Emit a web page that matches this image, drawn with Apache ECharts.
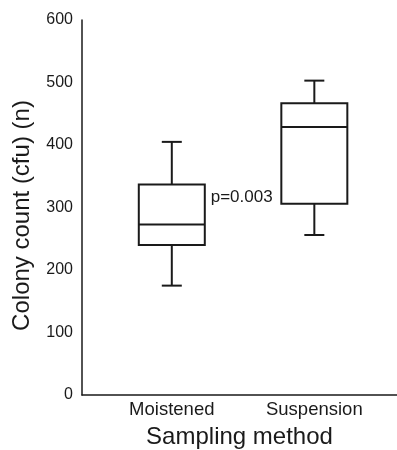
<!DOCTYPE html>
<html>
<head>
<meta charset="utf-8">
<script src="https://cdn.jsdelivr.net/npm/echarts@6/dist/echarts.min.js"></script>
<style>
  html, body { margin: 0; padding: 0; background: #fff; }
  #chart { width: 397px; height: 450px; }
</style>
</head>
<body>
<div id="chart"></div>
<script>
const categories = ['Moistened', 'Suspension'];
const catPos = [1, 2];
const whiskerLow = [175, 256];
const q1 = [240, 306];
const median = [273, 429];
const q3 = [337, 467];
const whiskerHigh = [405, 503];
const yTicks = [0, 100, 200, 300, 400, 500, 600];
const pText = 'p=0.003';
const pAt = [1.49, 317];

const font = '"Liberation Sans", Arial, sans-serif';
const ink = '#1a1a1a';

const boxData = catPos.map((x, i) => [x, whiskerLow[i], q1[i], median[i], q3[i], whiskerHigh[i]]);

const chart = echarts.init(document.getElementById('chart'));

function renderBox(params, api) {
    const x = api.value(0);
    const lo = api.coord([x, api.value(1)]);
    const b1 = api.coord([x, api.value(2)]);
    const md = api.coord([x, api.value(3)]);
    const b3 = api.coord([x, api.value(4)]);
    const hi = api.coord([x, api.value(5)]);
    const cx = lo[0];
    const hw = 33, cw = 10;
    const st = { stroke: ink, lineWidth: 2, fill: null };
    return {
        type: 'group',
        children: [
            { type: 'rect', shape: { x: cx - hw, y: b3[1], width: hw * 2, height: b1[1] - b3[1] }, style: { stroke: ink, lineWidth: 2, fill: '#fff' } },
            { type: 'line', shape: { x1: cx - hw, y1: md[1], x2: cx + hw, y2: md[1] }, style: st },
            { type: 'line', shape: { x1: cx, y1: b3[1], x2: cx, y2: hi[1] }, style: st },
            { type: 'line', shape: { x1: cx, y1: b1[1], x2: cx, y2: lo[1] }, style: st },
            { type: 'line', shape: { x1: cx - cw, y1: hi[1], x2: cx + cw, y2: hi[1] }, style: st },
            { type: 'line', shape: { x1: cx - cw, y1: lo[1], x2: cx + cw, y2: lo[1] }, style: st }
        ]
    };
}

chart.setOption({
    animation: false,
    backgroundColor: '#fff',
    textStyle: { fontFamily: font, color: ink },
    grid: { left: 82, right: 0, top: 20, bottom: 55, containLabel: false, outerBoundsMode: 'none' },
    xAxis: {
        type: 'value',
        min: 0.37,
        max: 2.58,
        name: 'Sampling method',
        nameLocation: 'middle',
        nameGap: 30,
        nameTextStyle: { fontSize: 24, color: ink, fontFamily: font },
        splitLine: { show: false },
        axisTick: { show: false },
        axisLine: { lineStyle: { color: ink, width: 1.5 } },
        axisLabel: {
            customValues: catPos,
            fontSize: 18.5,
            color: ink,
            margin: 5,
            formatter: (v) => categories[catPos.indexOf(Math.round(v))] || ''
        }
    },
    yAxis: {
        type: 'value',
        min: yTicks[0],
        max: yTicks[yTicks.length - 1],
        interval: 100,
        name: 'Colony count (cfu) (n)',
        nameLocation: 'middle',
        nameGap: 48,
        nameTextStyle: { fontSize: 24, color: ink, fontFamily: font, padding: [0, 16, 0, 0] },
        splitLine: { show: false },
        axisTick: { show: false },
        axisLine: { show: true, lineStyle: { color: ink, width: 1.5 } },
        axisLabel: { fontSize: 16, color: ink, margin: 9 }
    },
    series: [{
        type: 'custom',
        renderItem: renderBox,
        data: boxData,
        encode: { x: 0, y: [1, 2, 3, 4, 5] },
        markPoint: {
            symbol: 'circle',
            symbolSize: 0,
            data: [{ coord: pAt, label: { show: true, formatter: pText, fontSize: 17, color: ink, position: 'inside' } }]
        }
    }]
});
</script>
</body>
</html>
